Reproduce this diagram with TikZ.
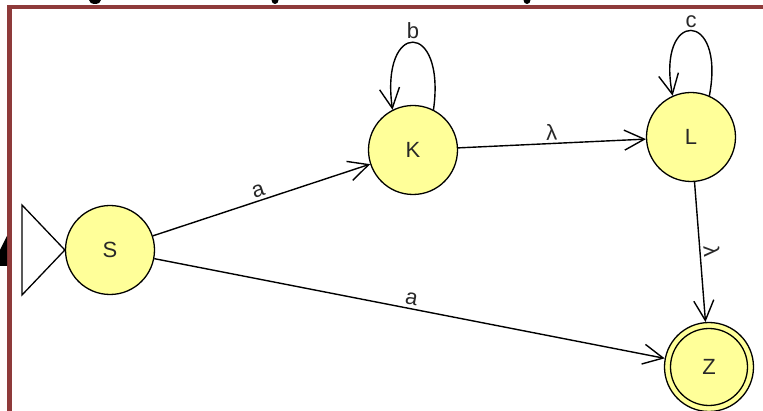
\documentclass[tikz,border=0pt]{standalone}
\usepackage{fontspec}
\setmainfont{Liberation Sans}
\usetikzlibrary{arrows.meta}
\definecolor{stfill}{RGB}{255,255,153}
\definecolor{framered}{RGB}{142,58,58}
\definecolor{txt}{RGB}{40,40,40}
\begin{document}
\begin{tikzpicture}[x=1pt,y=-1pt,
  state/.style={circle,draw=black,line width=1.3pt,fill=stfill,minimum size=89pt,inner sep=0pt,text=txt,font=\fontsize{22}{22}\selectfont},
  trans/.style={draw=black,line width=1.4pt,-{Straight Barb[length=20pt,width=20pt]}},
  lbl/.style={font=\fontsize{22}{22}\selectfont,inner sep=3pt,text=txt}]
\useasboundingbox (0,0) rectangle (763,411);
\clip (0,0) rectangle (763,411);
\fill[white] (0,0) rectangle (763,411);
% frame
\draw[framered,line width=4.5pt] (9.5,430) -- (9.5,7) -- (780,7);
% cut-off fragments
\fill[black] (95,0) ellipse (6 and 4);
\fill[black] (275,0) ellipse (3.5 and 4);
\fill[black] (527,0) ellipse (3.5 and 4);
\fill[black] (7,236) -- (0,250) -- (0,266) -- (7,266) -- cycle;
% states
\node[state] (S) at (110,250) {S};
\node[state] (K) at (413,150) {K};
\node[state] (L) at (691,137) {L};
\node[state] (Z) at (709,367) {};
\node[circle,draw=black,line width=1.3pt,fill=stfill,minimum size=77pt,inner sep=0pt,text=txt,font=\fontsize{22}{22}\selectfont] (Zin) at (Z) {Z};
% initial marker
\coordinate (t1) at (22,205);
\coordinate (t2) at (22,295);
\draw[line width=1.3pt,fill=white] (t1) -- (S.west) -- (t2) -- cycle;
% transitions
\draw[trans] (S) -- node[lbl,sloped,above] {a} (K);
\draw[trans] (K) -- node[lbl,sloped,above] {λ} (L);
\draw[trans] (S) -- node[lbl,sloped,above] {a} (Z);
\draw[trans] (L) -- node[lbl,sloped,above] {λ} (Z);
\draw[trans] (K.63) .. controls (446,20) and (380,20) .. node[lbl,pos=0.5,above,inner sep=3pt] {b} (K.117);
\draw[trans] (L.66) .. controls (726,9) and (656,9) .. node[lbl,pos=0.5,above,inner sep=2pt] {c} (L.114);
\end{tikzpicture}
\end{document}
